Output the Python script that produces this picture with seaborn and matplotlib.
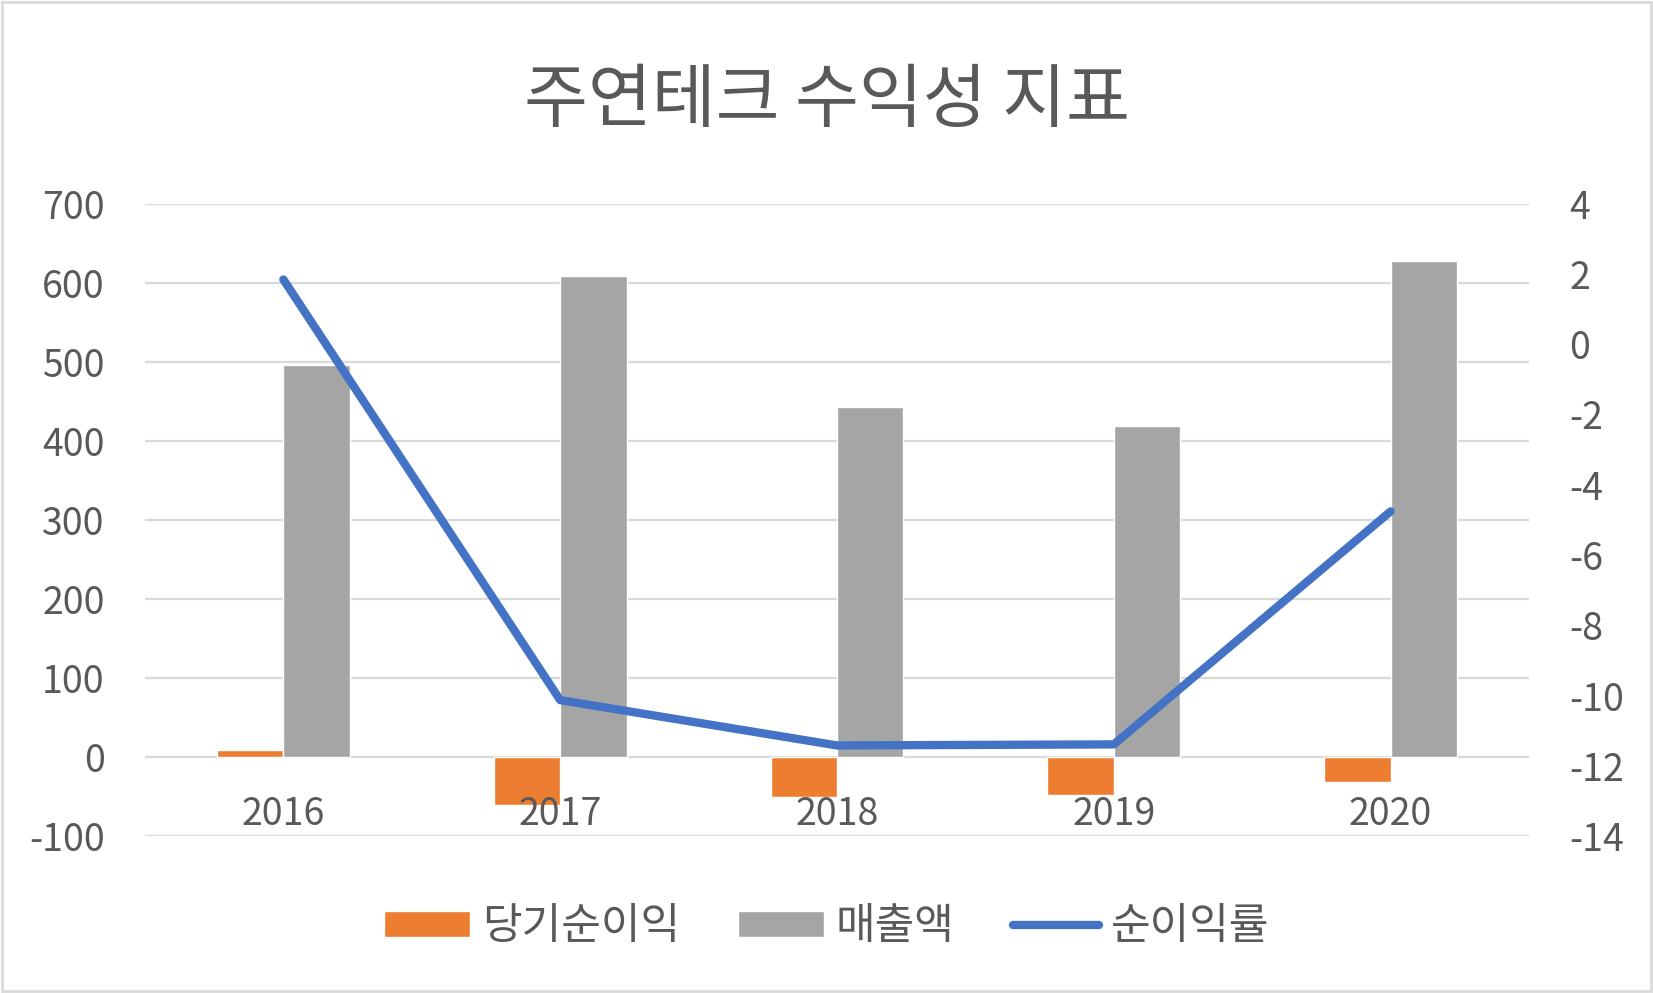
import matplotlib
matplotlib.use("Agg")
import matplotlib.pyplot as plt
from matplotlib.patches import Patch, Rectangle
from matplotlib.lines import Line2D
import numpy as np
import pandas as pd
import seaborn as sns

# values
years = ["2016", "2017", "2018", "2019", "2020"]
net_income = [9, -61, -51, -48, -31]        # 당기순이익
sales = [496, 608, 443, 419, 627]           # 매출액
net_margin = [1.84, -10.13, -11.42, -11.39, -4.76]  # 순이익률 (%)

left_ticks = list(range(-100, 701, 100))
right_ticks = list(range(-14, 5, 2))

ORANGE = "#ED7D31"
GRAY = "#A5A5A5"
BLUE = "#4472C4"
TEXT = "#595959"
GRID = "#D9D9D9"

sns.set_theme(style="white")
plt.rcParams["font.family"] = ["Noto Sans CJK KR", "DejaVu Sans"]
plt.rcParams["axes.unicode_minus"] = False

df = pd.DataFrame({
    "연도": years * 2,
    "값": net_income + sales,
    "구분": ["당기순이익"] * len(years) + ["매출액"] * len(years),
})

fig = plt.figure(figsize=(16.53, 9.93), dpi=100)
ax = fig.add_axes([0.0877, 0.158, 0.8373, 0.637])

sns.barplot(data=df, x="연도", y="값", hue="구분", palette=[ORANGE, GRAY],
            width=0.48, ax=ax, legend=False, saturation=1)

ax.set_xlim(-0.5, len(years) - 0.5)
ax.set_ylim(-100, 700)
ax.set_yticks(left_ticks)
ax.grid(axis="y", color=GRID, linewidth=1.6)
ax.set_axisbelow(True)
ax.set_xlabel("")
ax.set_ylabel("")
for s in ax.spines.values():
    s.set_visible(False)
ax.tick_params(axis="x", length=0, labelbottom=False)
ax.tick_params(axis="y", length=0, pad=29, labelsize=27, labelcolor=TEXT)

ax2 = ax.twinx()
sns.lineplot(x=np.arange(len(years)), y=net_margin, color=BLUE, linewidth=6,
             ax=ax2, solid_capstyle="round", solid_joinstyle="round")
ax2.set_ylim(-14, 4)
ax2.set_yticks(right_ticks)
ax2.set_xlim(-0.5, len(years) - 0.5)
for s in ax2.spines.values():
    s.set_visible(False)
ax2.tick_params(axis="y", length=0, pad=29, labelsize=27, labelcolor=TEXT)
ax2.set_ylabel("")

# year labels sit just under the zero line, drawn above the bars
ax2.xaxis.set_visible(True)
zero_frac = (0 - ax.get_ylim()[0]) / (ax.get_ylim()[1] - ax.get_ylim()[0])
ax2.spines["bottom"].set_position(("axes", zero_frac))
ax2.tick_params(axis="x", length=0, pad=27, labelsize=27, labelcolor=TEXT,
                labelbottom=True)

fig.suptitle("주연테크 수익성 지표", x=0.5, y=0.934, fontsize=50, color=TEXT)

handles = [
    Patch(facecolor=ORANGE, label="당기순이익"),
    Patch(facecolor=GRAY, label="매출액"),
    Line2D([0], [0], color=BLUE, linewidth=6, solid_capstyle="round", label="순이익률"),
]
fig.legend(handles=handles, loc="center", bbox_to_anchor=(0.5, 0.066), ncol=3,
           frameon=False, fontsize=31, labelcolor=TEXT, handlelength=2.0,
           handleheight=0.54, handletextpad=0.27, columnspacing=1.35)

fig.patches.append(Rectangle((0.001, 0.002), 0.998, 0.996, transform=fig.transFigure,
                             fill=False, edgecolor=GRID, linewidth=2))

fig.savefig("out.png", dpi=100)
